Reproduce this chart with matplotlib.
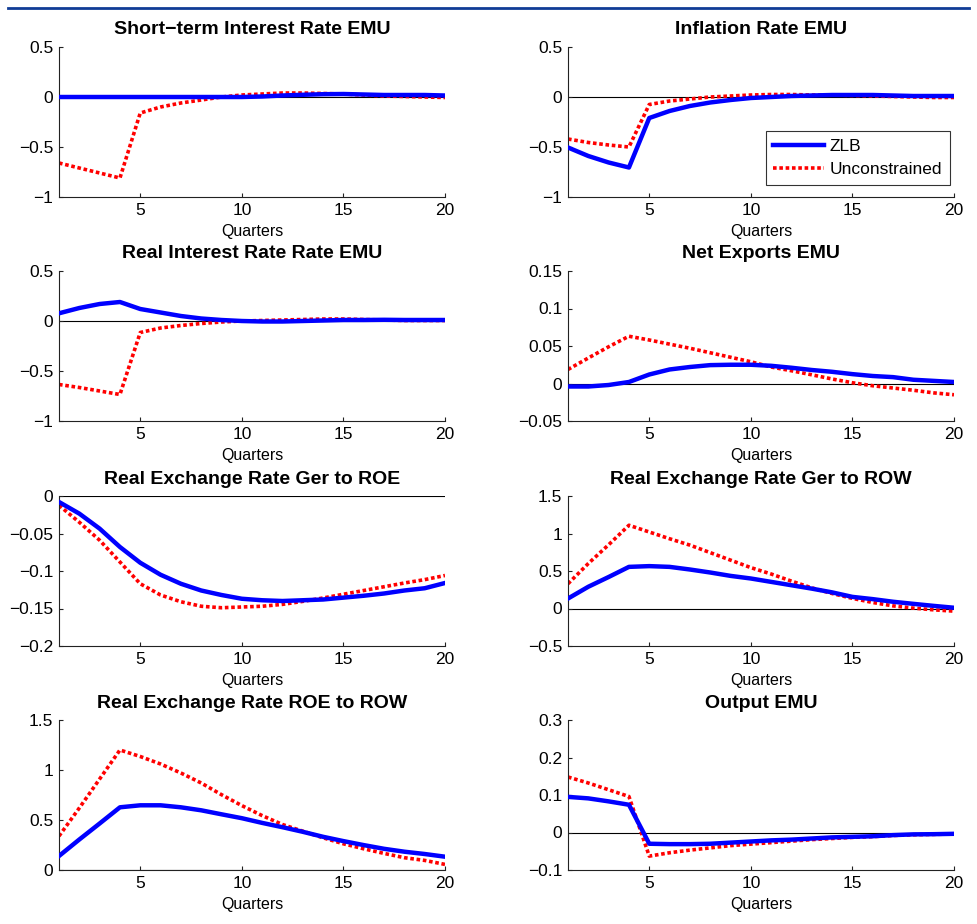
import matplotlib
matplotlib.use("Agg")
import matplotlib.pyplot as plt
from matplotlib.lines import Line2D
from matplotlib.ticker import FuncFormatter, FixedLocator
import numpy as np

plt.rcParams['font.family'] = ['Liberation Sans', 'DejaVu Sans']

quarters = list(range(1, 21))

titles = [
    "Short\u2212term Interest Rate EMU",
    "Inflation Rate EMU",
    "Real Interest Rate Rate EMU",
    "Net Exports EMU",
    "Real Exchange Rate Ger to ROE",
    "Real Exchange Rate Ger to ROW",
    "Real Exchange Rate ROE to ROW",
    "Output EMU",
]

# ZLB (solid blue)
zlb_rate = [0, 0, 0, 0, 0, 0, 0, 0, 0, 0, 0.005, 0.015, 0.022, 0.028, 0.03, 0.025, 0.02, 0.02, 0.02, 0.015]
zlb_infl = [-0.505, -0.59, -0.655, -0.705, -0.21, -0.14, -0.09, -0.055, -0.03, -0.01, 0.0, 0.01, 0.015, 0.02, 0.02, 0.02, 0.015, 0.01, 0.01, 0.01]
zlb_real = [0.077, 0.13, 0.17, 0.19, 0.12, 0.085, 0.05, 0.025, 0.01, 0.0, -0.005, -0.005, 0.0, 0.005, 0.01, 0.01, 0.012, 0.01, 0.01, 0.01]
zlb_nx = [-0.004, -0.004, -0.002, 0.002, 0.012, 0.0187, 0.022, 0.0245, 0.025, 0.025, 0.0236, 0.021, 0.018, 0.0156, 0.0125, 0.010, 0.0085, 0.005, 0.0035, 0.002]
zlb_rer_ger_roe = [-0.008, -0.0235, -0.0435, -0.068, -0.089, -0.105, -0.117, -0.126, -0.132, -0.137, -0.139, -0.140, -0.139, -0.138, -0.1355, -0.133, -0.130, -0.126, -0.123, -0.116]
zlb_rer_ger_row = [0.133, 0.29, 0.42, 0.555, 0.565, 0.555, 0.52, 0.48, 0.435, 0.40, 0.355, 0.31, 0.265, 0.215, 0.155, 0.125, 0.09, 0.062, 0.035, 0.01]
zlb_rer_roe_row = [0.14, 0.305, 0.465, 0.627, 0.647, 0.647, 0.627, 0.597, 0.557, 0.518, 0.471, 0.428, 0.382, 0.332, 0.289, 0.249, 0.212, 0.183, 0.16, 0.133]
zlb_output = [0.095, 0.091, 0.083, 0.074, -0.030, -0.031, -0.031, -0.030, -0.027, -0.024, -0.021, -0.019, -0.016, -0.013, -0.0115, -0.010, -0.007, -0.005, -0.0045, -0.0035]

# Unconstrained (dotted red)
unc_rate = [-0.66, -0.71, -0.76, -0.81, -0.16, -0.10, -0.06, -0.03, 0.0, 0.02, 0.03, 0.04, 0.04, 0.035, 0.03, 0.02, 0.01, 0.005, 0.0, -0.005]
unc_infl = [-0.42, -0.455, -0.48, -0.50, -0.075, -0.04, -0.02, 0.0, 0.01, 0.02, 0.025, 0.025, 0.02, 0.02, 0.015, 0.01, 0.005, 0.0, -0.005, -0.005]
unc_real = [-0.635, -0.665, -0.70, -0.735, -0.115, -0.07, -0.045, -0.025, -0.01, 0.0, 0.005, 0.01, 0.015, 0.02, 0.02, 0.015, 0.01, 0.005, 0.005, 0.005]
unc_nx = [0.0187, 0.034, 0.049, 0.063, 0.058, 0.0525, 0.047, 0.041, 0.035, 0.029, 0.022, 0.017, 0.0116, 0.006, 0.001, -0.003, -0.006, -0.009, -0.0125, -0.015]
unc_rer_ger_roe = [-0.0125, -0.035, -0.059, -0.088, -0.117, -0.132, -0.141, -0.147, -0.149, -0.148, -0.147, -0.1445, -0.1405, -0.136, -0.131, -0.126, -0.121, -0.116, -0.1115, -0.106]
unc_rer_ger_row = [0.33, 0.6, 0.85, 1.11, 1.02, 0.93, 0.845, 0.745, 0.645, 0.545, 0.46, 0.365, 0.275, 0.2, 0.135, 0.08, 0.035, 0.005, -0.018, -0.035]
unc_rer_roe_row = [0.339, 0.62, 0.91, 1.20, 1.135, 1.06, 0.97, 0.87, 0.753, 0.644, 0.544, 0.455, 0.388, 0.322, 0.262, 0.212, 0.166, 0.123, 0.096, 0.056]
unc_output = [0.148, 0.132, 0.114, 0.096, -0.063, -0.054, -0.047, -0.041, -0.035, -0.031, -0.027, -0.023, -0.019, -0.016, -0.013, -0.011, -0.008, -0.006, -0.005, -0.004]

zlb_series = [zlb_rate, zlb_infl, zlb_real, zlb_nx, zlb_rer_ger_roe, zlb_rer_ger_row, zlb_rer_roe_row, zlb_output]
unc_series = [unc_rate, unc_infl, unc_real, unc_nx, unc_rer_ger_roe, unc_rer_ger_row, unc_rer_roe_row, unc_output]

yticks = [
    [-1, -0.5, 0, 0.5],
    [-1, -0.5, 0, 0.5],
    [-1, -0.5, 0, 0.5],
    [-0.05, 0, 0.05, 0.1, 0.15],
    [-0.2, -0.15, -0.1, -0.05, 0],
    [-0.5, 0, 0.5, 1, 1.5],
    [0, 0.5, 1, 1.5],
    [-0.1, 0, 0.1, 0.2, 0.3],
]
xticks = [5, 10, 15, 20]

W, H = 978, 924
fig = plt.figure(figsize=(W / 100, H / 100), dpi=100)

lefts = [59, 568]
tops = [47, 271, 496, 720]
aw, ah = 386, 150

fmt = FuncFormatter(lambda v, p: ("%g" % v).replace("-", "\u2212"))

for i in range(8):
    r, c = divmod(i, 2)
    ax = fig.add_axes([lefts[c] / W, 1 - (tops[r] + ah) / H, aw / W, ah / H])
    ax.axhline(0, color='black', lw=0.8, zorder=1)
    lz, = ax.plot(quarters, zlb_series[i], color='#0000ff', lw=3.2, solid_joinstyle='round', zorder=3, label='ZLB')
    lu, = ax.plot(quarters, unc_series[i], color='#ff0000', lw=2.6, linestyle=(0, (1.0, 0.75)), zorder=2, label='Unconstrained')
    ax.set_xlim(1, 20)
    ax.set_ylim(yticks[i][0], yticks[i][-1])
    ax.xaxis.set_major_locator(FixedLocator(xticks))
    ax.yaxis.set_major_locator(FixedLocator(yticks[i]))
    ax.yaxis.set_major_formatter(fmt)
    ax.spines['top'].set_visible(False)
    ax.spines['right'].set_visible(False)
    for s in ('left', 'bottom'):
        ax.spines[s].set_color('#222222')
        ax.spines[s].set_linewidth(0.8)
    ax.tick_params(direction='in', length=3, width=0.8, labelsize=12.5, colors='#222222', labelcolor='black', pad=4)
    ax.set_title(titles[i], fontsize=14, fontweight='bold', pad=9)
    ax.set_xlabel('Quarters', fontsize=11.5, labelpad=4.5)
    ax.set_facecolor('white')
    if i == 1:
        leg = ax.legend(handles=[lz, lu], loc='lower right', bbox_to_anchor=(0.99, 0.08),
                        fontsize=12.5, frameon=True, fancybox=False, handlelength=2.9,
                        handletextpad=0.35, borderpad=0.45, labelspacing=0.45, borderaxespad=0)
        leg.get_frame().set_edgecolor('black')
        leg.get_frame().set_linewidth(0.8)

fig.add_artist(Line2D([8 / W, 969 / W], [1 - 8 / H, 1 - 8 / H], color='#103c96', lw=2))

fig.savefig('out.png', dpi=100)
